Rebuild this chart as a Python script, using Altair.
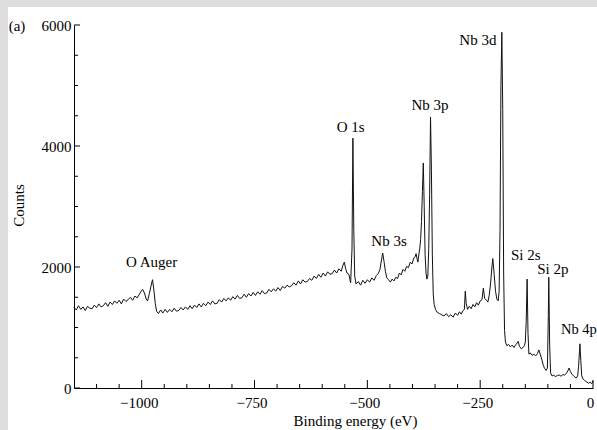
import altair as alt
import pandas as pd

# ---- spectrum (binding energy in eV, counts) ----
e_left = [-1150, -1145, -1140, -1135, -1130, -1125, -1120, -1115, -1110, -1105,
          -1100, -1095, -1090, -1085, -1080, -1075, -1070, -1065, -1060, -1055,
          -1050, -1045, -1040, -1035, -1030, -1025, -1020, -1015, -1010]
c_left = [1330, 1290, 1360, 1300, 1340, 1280, 1350, 1320, 1310, 1370,
          1330, 1390, 1340, 1360, 1410, 1350, 1420, 1380, 1440, 1400,
          1450, 1390, 1470, 1430, 1460, 1500, 1450, 1520, 1490]

e_auger = [-1006, -1002, -998, -994, -990, -987, -983, -979, -976, -973, -970, -967, -963]
c_auger = [1540, 1590, 1630, 1570, 1470, 1440, 1560, 1700, 1790, 1620, 1400, 1270, 1230]

e_slope = [-958, -953, -948, -943, -938, -933, -928, -923, -918, -913,
           -908, -903, -898, -893, -888, -883, -878, -873, -868, -863,
           -858, -853, -848, -843, -838, -833, -828, -823, -818, -813,
           -808, -803, -798, -793, -788, -783, -778, -773, -768, -763,
           -758, -753, -748, -743, -738, -733, -728, -723, -718, -713,
           -708, -703, -698, -693, -688, -683, -678, -673, -668, -663,
           -658, -653, -648, -643, -638, -633, -628, -623, -618, -613,
           -608, -603, -598, -593, -588, -583, -578, -573, -568, -563, -558]
c_slope = [1290, 1240, 1300, 1250, 1300, 1260, 1320, 1270, 1280, 1330,
           1290, 1340, 1300, 1360, 1310, 1370, 1330, 1390, 1340, 1400,
           1360, 1420, 1380, 1440, 1390, 1400, 1460, 1420, 1480, 1440,
           1490, 1450, 1510, 1470, 1530, 1480, 1490, 1550, 1500, 1560,
           1520, 1580, 1530, 1590, 1550, 1610, 1560, 1570, 1630, 1590,
           1640, 1600, 1660, 1610, 1680, 1650, 1700, 1670, 1690, 1740,
           1700, 1770, 1720, 1790, 1750, 1760, 1810, 1780, 1850, 1810,
           1880, 1830, 1900, 1850, 1920, 1880, 1890, 1950, 1900, 1970, 1930]

e_o1s = [-554, -551, -548, -545, -541, -537, -534, -532, -530, -528, -525]
c_o1s = [2030, 2080, 1970, 1900, 1880, 1740, 2300, 4130, 2600, 1850, 1720]

e_nb3s = [-520, -515, -510, -505, -500, -495, -490, -485, -480, -476,
          -472, -469, -466, -463, -460, -457, -453, -449, -445, -441,
          -437, -433, -429, -425, -421, -417, -413, -409, -405, -401,
          -397, -394, -392, -390, -388]
c_nb3s = [1760, 1700, 1780, 1730, 1790, 1750, 1820, 1780, 1860, 1890,
          1960, 2100, 2230, 2090, 1930, 1820, 1790, 1750, 1800, 1770,
          1830, 1810, 1900, 1870, 1960, 1930, 2010, 1990, 2080, 2050,
          2150, 2170, 2220, 2140, 2080]

e_nb3p = [-386, -384, -382, -380, -378, -376, -374, -372, -370, -368,
          -366, -364, -362, -360, -358, -356, -354, -352, -349, -345]
c_nb3p = [2200, 2300, 2450, 2750, 3250, 3720, 3000, 2200, 1900, 1800,
          1850, 2300, 3200, 4480, 3600, 2200, 1550, 1380, 1300, 1250]

e_mid = [-340, -335, -330, -325, -320, -315, -310, -305, -300, -296,
         -292, -288, -285, -283, -281, -278, -274, -270, -266, -262,
         -258, -254, -250, -246, -243, -240, -236, -233, -230, -227,
         -224, -222, -219, -216, -213, -210, -208]
c_mid = [1230, 1210, 1190, 1230, 1180, 1210, 1170, 1240, 1200, 1260,
         1220, 1280, 1300, 1600, 1400, 1300, 1350, 1310, 1380, 1340,
         1410, 1370, 1440, 1460, 1650, 1480, 1450, 1420, 1530, 1720,
         2000, 2140, 1880, 1600, 1470, 1440, 1600]

e_nb3d = [-206, -204, -202, -200, -198, -196, -194]
c_nb3d = [2600, 5000, 5880, 4600, 1900, 950, 760]

e_si2s = [-191, -187, -183, -179, -175, -171, -168, -166, -163, -159,
          -155, -152, -150, -148, -146, -144, -142]
c_si2s = [700, 720, 680, 710, 670, 720, 740, 770, 690, 650,
          670, 700, 760, 1100, 1800, 900, 560]

e_si2p = [-139, -135, -131, -127, -123, -120, -117, -113, -110, -107,
          -104, -101, -99, -98, -96, -94]
c_si2p = [580, 540, 560, 530, 570, 630, 560, 460, 370, 320,
          290, 330, 1200, 1830, 700, 250]

e_low = [-91, -87, -83, -79, -75, -71, -67, -63, -59, -56,
         -53, -50, -47, -43, -40, -37, -34, -32, -30, -29,
         -27, -25, -22, -18, -14, -10, -6, -3, 0]
c_low = [200, 210, 190, 205, 215, 195, 220, 215, 240, 280,
         330, 270, 230, 200, 180, 165, 200, 350, 600, 730,
         450, 200, 150, 120, 100, 80, 95, 70, 115]

# ---- peak labels ----
label_text = ["O Auger", "O 1s", "Nb 3s", "Nb 3p", "Nb 3d", "Si 2s", "Si 2p"]
label_e = [-978, -537, -452, -361, -255, -149, -89]
label_c = [2000, 4232, 2347, 4595, 5670, 2116, 1884]
label4p_text = ["Nb 4p"]
label4p_e = [-71]
label4p_c = [893]

# ---- axis ticks ----
x_major = [-1000, -750, -500, -250, 0]
x_minor = [-1100, -1050, -950, -900, -850, -800, -700, -650, -600, -550,
           -450, -400, -350, -300, -200, -150, -100, -50]
y_major = [0, 2000, 4000, 6000]
y_minor = [500, 1000, 1500, 2500, 3000, 3500, 4500, 5000, 5500]

W, H = 519, 363
FONT = "Liberation Serif"

energy = (e_left + e_auger + e_slope + e_o1s + e_nb3s + e_nb3p + e_mid
          + e_nb3d + e_si2s + e_si2p + e_low)
counts = (c_left + c_auger + c_slope + c_o1s + c_nb3s + c_nb3p + c_mid
          + c_nb3d + c_si2s + c_si2p + c_low)
spec = pd.DataFrame({"E": energy, "C": counts})

xs = alt.Scale(domain=[-1150, 0], nice=False, zero=False)
ys = alt.Scale(domain=[0, 6000], nice=False)

bg = alt.Chart(pd.DataFrame({"a": [0]})).mark_rect(color="white").encode(
    x=alt.value(-66), x2=alt.value(W + 10), y=alt.value(-18), y2=alt.value(H + 50)
)

line = alt.Chart(spec).mark_line(color="#111111", strokeWidth=1).encode(
    x=alt.X("E:Q", scale=xs,
            axis=alt.Axis(values=x_major, format="d", ticks=False, grid=False,
                          domainColor="black", zindex=1,
                          labelFont=FONT, labelFontSize=15, labelColor="black",
                          labelPadding=7, labelOffset=-3, labelFlush=False,
                          title="Binding energy (eV)", titleFont=FONT, titleFontSize=15,
                          titleFontWeight="normal", titleColor="black",
                          titleX=281, titleY=37, titleBaseline="alphabetic",
                          titleAlign="center")),
    y=alt.Y("C:Q", scale=ys,
            axis=alt.Axis(values=y_major, format="d", ticks=False, grid=False,
                          domainColor="black", zindex=1,
                          labelFont=FONT, labelFontSize=15, labelColor="black",
                          labelPadding=3, labelFlush=False,
                          title="Counts", titleFont=FONT, titleFontSize=15,
                          titleFontWeight="normal", titleColor="black",
                          titleX=-56, titleY=180, titleAlign="center",
                          titleBaseline="middle")),
)

xmaj = alt.Chart(pd.DataFrame({"v": x_major})).mark_rule(color="black", strokeWidth=1).encode(
    x=alt.X("v:Q", scale=xs), y=alt.value(H), y2=alt.value(H - 8))
xmin = alt.Chart(pd.DataFrame({"v": x_minor})).mark_rule(color="black", strokeWidth=1).encode(
    x=alt.X("v:Q", scale=xs), y=alt.value(H), y2=alt.value(H - 4))
ymaj = alt.Chart(pd.DataFrame({"v": y_major})).mark_rule(color="black", strokeWidth=1).encode(
    y=alt.Y("v:Q", scale=ys), x=alt.value(0), x2=alt.value(6))
ymin = alt.Chart(pd.DataFrame({"v": y_minor})).mark_rule(color="black", strokeWidth=1).encode(
    y=alt.Y("v:Q", scale=ys), x=alt.value(0), x2=alt.value(4))

labels = alt.Chart(pd.DataFrame({"E": label_e, "C": label_c, "t": label_text})).mark_text(
    font=FONT, fontSize=15, color="black", align="center", baseline="alphabetic"
).encode(x=alt.X("E:Q", scale=xs), y=alt.Y("C:Q", scale=ys), text="t:N")

label4p = alt.Chart(pd.DataFrame({"E": label4p_e, "C": label4p_c, "t": label4p_text})).mark_text(
    font=FONT, fontSize=14.5, color="black", align="left", baseline="alphabetic"
).encode(x=alt.X("E:Q", scale=xs), y=alt.Y("C:Q", scale=ys), text="t:N")

panel = alt.Chart(pd.DataFrame({"t": ["(a)"]})).mark_text(
    font=FONT, fontSize=15, color="black", align="center", baseline="middle"
).encode(x=alt.value(-57), y=alt.value(1), text="t:N")

chart = alt.layer(bg, line, xmaj, xmin, ymaj, ymin, labels, label4p, panel).properties(
    width=W, height=H,
    autosize=alt.AutoSizeParams(type="none"),
    padding={"left": 74, "top": 25, "right": 4, "bottom": 42},
    background="#dedede",
).configure_view(stroke=None)

chart.save("out.html", embed_options={"renderer": "svg", "actions": False})
